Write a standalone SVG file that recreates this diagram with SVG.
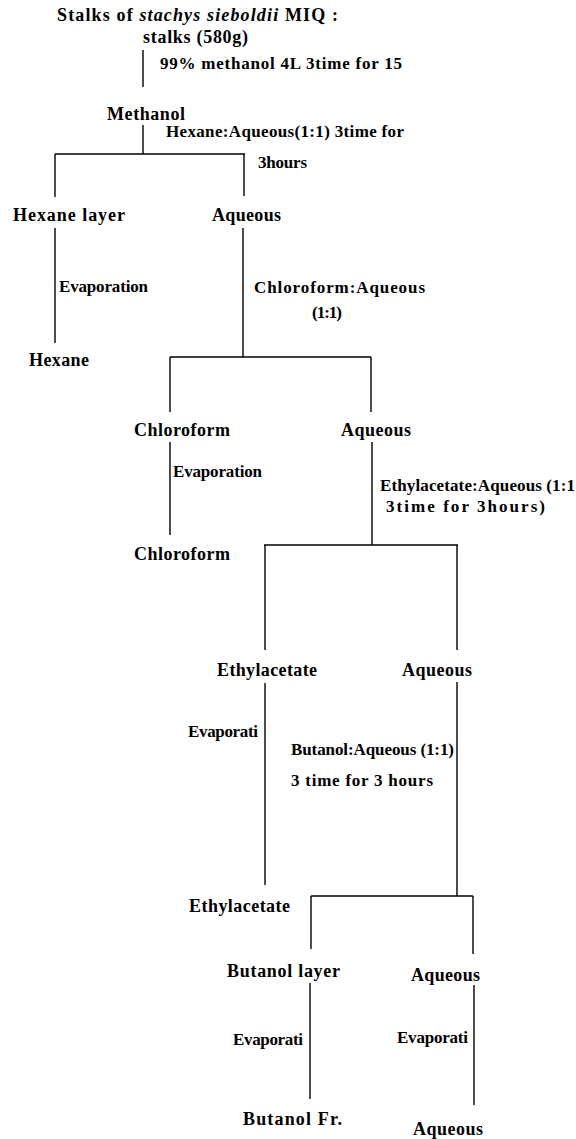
<svg xmlns="http://www.w3.org/2000/svg" width="576" height="1139" viewBox="0 0 576 1139">
<style>
  .n { font-family: "Liberation Serif", "Times New Roman", serif; font-weight: bold; font-size: 18px; fill: #000; }
  .l { font-family: "Liberation Serif", "Times New Roman", serif; font-weight: bold; font-size: 17px; fill: #000; }
  .c line { stroke: #000; stroke-width: 1.4; }
</style>
<rect width="576" height="1139" fill="#fff"/>
<g id="connectors" class="c">
  <line x1="143" y1="50" x2="143" y2="87"/>
  <line x1="143" y1="125" x2="143" y2="154"/>
  <line x1="55" y1="154" x2="245" y2="154"/>
  <line x1="55" y1="154" x2="55" y2="197"/>
  <line x1="244" y1="154" x2="244" y2="196"/>
  <line x1="55" y1="228" x2="55" y2="343"/>
  <line x1="243" y1="228" x2="243" y2="357"/>
  <line x1="170" y1="357" x2="371" y2="357"/>
  <line x1="170" y1="357" x2="170" y2="412"/>
  <line x1="371" y1="357" x2="371" y2="412"/>
  <line x1="170" y1="442" x2="170" y2="535"/>
  <line x1="372" y1="442" x2="372" y2="545"/>
  <line x1="264" y1="545" x2="458" y2="545"/>
  <line x1="265" y1="545" x2="265" y2="650"/>
  <line x1="457" y1="545" x2="457" y2="650"/>
  <line x1="265" y1="683" x2="265" y2="885"/>
  <line x1="457" y1="682" x2="457" y2="896"/>
  <line x1="311" y1="896" x2="473" y2="896"/>
  <line x1="311" y1="896" x2="311" y2="949"/>
  <line x1="473" y1="896" x2="473" y2="954"/>
  <line x1="310" y1="983" x2="310" y2="1099"/>
  <line x1="474" y1="985" x2="474" y2="1105"/>
</g>
<g id="node-source">
  <text class="n" x="57" y="21" textLength="281" lengthAdjust="spacing">Stalks of <tspan font-style="italic">stachys sieboldii</tspan> MIQ :</text>
  <text class="n" x="143" y="43" textLength="105" lengthAdjust="spacing">stalks (580g)</text>
</g>
<g id="label-extract"><text class="l" x="160" y="69" textLength="242" lengthAdjust="spacing">99% methanol 4L 3time for 15</text></g>
<g id="node-methanol"><text class="n" x="107" y="120" textLength="78" lengthAdjust="spacing">Methanol</text></g>
<g id="label-hexane-partition">
  <text class="l" x="166" y="137" textLength="238" lengthAdjust="spacing">Hexane:Aqueous(1:1) 3time for</text>
  <text class="l" x="258" y="168" textLength="49" lengthAdjust="spacing">3hours</text>
</g>
<g id="node-hexane-layer"><text class="n" x="13" y="221" textLength="112" lengthAdjust="spacing">Hexane layer</text></g>
<g id="node-aqueous-1"><text class="n" x="212" y="221" textLength="69" lengthAdjust="spacing">Aqueous</text></g>
<g id="label-evap-1"><text class="l" x="59" y="292" textLength="89" lengthAdjust="spacing">Evaporation</text></g>
<g id="label-chloroform-partition">
  <text class="l" x="254" y="293" textLength="171" lengthAdjust="spacing">Chloroform:Aqueous</text>
  <text class="l" x="312" y="318" textLength="30" lengthAdjust="spacing">(1:1)</text>
</g>
<g id="node-hexane"><text class="n" x="29" y="366" textLength="60" lengthAdjust="spacing">Hexane</text></g>
<g id="node-chloroform-layer"><text class="n" x="134" y="436" textLength="96" lengthAdjust="spacing">Chloroform</text></g>
<g id="node-aqueous-2"><text class="n" x="341" y="436" textLength="70" lengthAdjust="spacing">Aqueous</text></g>
<g id="label-evap-2"><text class="l" x="173" y="477" textLength="89" lengthAdjust="spacing">Evaporation</text></g>
<g id="label-ethylacetate-partition">
  <text class="l" x="380" y="491" textLength="195" lengthAdjust="spacing">Ethylacetate:Aqueous (1:1</text>
  <text class="l" x="386" y="512" textLength="159" lengthAdjust="spacing">3time for 3hours)</text>
</g>
<g id="node-chloroform"><text class="n" x="134" y="560" textLength="96" lengthAdjust="spacing">Chloroform</text></g>
<g id="node-ethylacetate-layer"><text class="n" x="217" y="676" textLength="100" lengthAdjust="spacing">Ethylacetate</text></g>
<g id="node-aqueous-3"><text class="n" x="402" y="676" textLength="70" lengthAdjust="spacing">Aqueous</text></g>
<g id="label-evap-3"><text class="l" x="188" y="737" textLength="70" lengthAdjust="spacing">Evaporati</text></g>
<g id="label-butanol-partition">
  <text class="l" x="291" y="755" textLength="163" lengthAdjust="spacing">Butanol:Aqueous (1:1)</text>
  <text class="l" x="291" y="786" textLength="142" lengthAdjust="spacing">3 time for 3 hours</text>
</g>
<g id="node-ethylacetate"><text class="n" x="189" y="912" textLength="101" lengthAdjust="spacing">Ethylacetate</text></g>
<g id="node-butanol-layer"><text class="n" x="227" y="977" textLength="113" lengthAdjust="spacing">Butanol layer</text></g>
<g id="node-aqueous-4"><text class="n" x="411" y="981" textLength="69" lengthAdjust="spacing">Aqueous</text></g>
<g id="label-evap-4"><text class="l" x="233" y="1045" textLength="70" lengthAdjust="spacing">Evaporati</text></g>
<g id="label-evap-5"><text class="l" x="397" y="1043" textLength="71" lengthAdjust="spacing">Evaporati</text></g>
<g id="node-butanol-fr"><text class="n" x="243" y="1125" textLength="99" lengthAdjust="spacing">Butanol Fr.</text></g>
<g id="node-aqueous-final"><text class="n" x="413" y="1135" textLength="70" lengthAdjust="spacing">Aqueous</text></g>
</svg>
